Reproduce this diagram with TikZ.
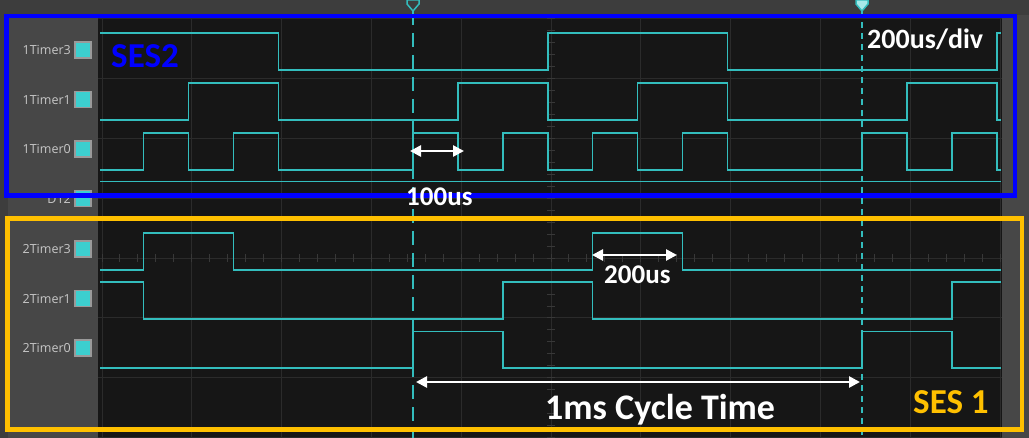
\documentclass[tikz,border=0pt]{standalone}
\usepackage{fontspec}
\usetikzlibrary{arrows.meta}
\newfontfamily\annfont{Carlito}
\newfontfamily\lblfont{Open Sans}
\definecolor{bggray}{HTML}{3D3D3D}
\definecolor{panel}{HTML}{474747}
\definecolor{plotbg}{HTML}{161616}
\definecolor{gridc}{HTML}{2B2B2B}
\definecolor{tickc}{HTML}{383838}
\definecolor{trace}{HTML}{33BDBD}
\definecolor{sqc}{HTML}{3CCFCF}
\definecolor{sqborder}{HTML}{9A9A9A}
\definecolor{lblc}{HTML}{C8C8C8}
\definecolor{sesblue}{HTML}{0000FF}
\definecolor{sesgold}{HTML}{FFC000}
\begin{document}
\begin{tikzpicture}[x=1pt,y=-1pt,
  sig/.style={trace, line width=1.6pt, line join=miter},
  gridl/.style={gridc, line width=1pt},
  tickl/.style={tickc, line width=1pt},
  curA/.style={trace, line width=1.6pt, dash pattern=on 14pt off 8pt},
  curB/.style={trace, line width=1.6pt, dash pattern=on 6pt off 5pt},
  lbl/.style={lblc, inner sep=0pt, font=\lblfont\fontsize{12.5}{14}\selectfont, anchor=east},
  sqbox/.style={fill=sqc, draw=sqborder, line width=1.2pt, minimum size=16pt, inner sep=0pt},
  ann/.style={inner sep=0pt, anchor=base west, font=\annfont\bfseries\fontsize{#1}{#1}\selectfont},
  dimarrow/.style={white, line width=2.6pt, {Triangle[length=11pt,width=11pt]}-{Triangle[length=11pt,width=11pt]}},
  sesbox/.style={line width=4.5pt}
]
\useasboundingbox (0,0) rectangle (1029,438);
% backgrounds
\fill[bggray] (0,0) rectangle (1029,438);
\fill[plotbg] (98,15) rectangle (1002,438);
\fill[panel] (8,15) rectangle (98,438);
\fill[panel] (1002,15) rectangle (1029,438);
% grid
\foreach \k in {0,...,10} \draw[gridl] ({102+89.8*\k},15) -- ({102+89.8*\k},438);
\foreach \k in {0,...,7} \draw[gridl] (98,{19+59.8*\k}) -- (1002,{19+59.8*\k});
% center axis ticks
\foreach \j in {0,...,50} \draw[tickl] ({102+17.96*\j},254.2) -- ({102+17.96*\j},262.2);
\foreach \j in {0,...,35} \draw[tickl] (547,{19+11.96*\j}) -- (555,{19+11.96*\j});
% traces
\draw[sig] (100,33) -| (278.3,70) -| (547.7,33) -| (727.3,70) -| (996.7,33) -- (1001,33);
\draw[sig] (100,120) -| (188.5,83) -| (278.3,120) -| (457.9,83) -| (547.7,120) -| (637.5,83) -| (727.3,120) -| (906.9,83) -| (996.7,120) -- (1001,120);
\draw[sig] (100,170) -| (143.6,133) -| (188.5,170) -| (233.4,133) -| (278.3,170) -| (413,133) -| (457.9,170) -| (502.8,133) -| (547.7,170) -| (592.6,133) -| (637.5,170) -| (682.4,133) -| (727.3,170) -| (862,133) -| (906.9,170) -| (951.8,133) -| (996.7,170) -- (1001,170);
\draw[sig] (100,181.5) -- (1001,181.5);
\draw[sig] (100,270) -| (143.6,233) -| (233.4,270) -| (592.6,233) -| (682.4,270) -- (1001,270);
\draw[sig] (100,282) -| (143.6,319) -| (502.8,282) -| (592.6,319) -| (951.8,282) -- (1001,282);
\draw[sig] (100,368) -| (413,331.5) -| (502.8,368) -| (862,331.5) -| (951.8,368) -- (1001,368);
% cursors
\coordinate (c1top) at (413,11);
\coordinate (c1bot) at (413,438);
\coordinate (c2top) at (862,11);
\coordinate (c2bot) at (862,438);
\draw[curA] (c1top) -- (c1bot);
\draw[curB] (c2top) -- (c2bot);
\draw[trace, line width=1.5pt, fill=bggray] (407,0) -- (419,0) -- (419,4) -- (413,11) -- (407,4) -- cycle;
\draw[trace, line width=1.5pt, fill=sqc!45!white] (856,0) -- (868,0) -- (868,4) -- (862,11) -- (856,4) -- cycle;
% labels
\foreach \n/\y in {1Timer3/50,1Timer1/99.5,1Timer0/149,D12/198.5,2Timer3/249,2Timer1/298.5,2Timer0/348}{
  \node[lbl] (l\n) at (71,\y) {\n};
  \node[sqbox] (s\n) at (83,\y) {};
}
% session boxes
\draw[sesbox, sesblue] (6.5,16) rectangle (1015,195.5);
\draw[sesbox, sesgold] (7.5,218.5) rectangle (1022,429.5);
% annotations
\node[ann=35, sesblue] (ses2) at (111,68) {SES2};
\node[ann=28, white] (div) at (867,49) {200us/div};
\node[ann=27, white] (t100) at (406,206) {100us};
\node[ann=27, white] (t200) at (604,284) {200us};
\node[ann=36, white] (tcyc) at (545,420) {1ms Cycle Time};
\node[ann=35, sesgold] (ses1) at (913,414) {SES 1};
% dimension arrows
\coordinate (a1l) at (410,151);
\coordinate (a1r) at (464,151);
\coordinate (a2l) at (592,255);
\coordinate (a2r) at (677,255);
\coordinate (a3l) at (416,382);
\coordinate (a3r) at (860,382);
\draw[dimarrow] (a1l) -- (a1r);
\draw[dimarrow] (a2l) -- (a2r);
\draw[dimarrow] (a3l) -- (a3r);
\end{tikzpicture}
\end{document}
